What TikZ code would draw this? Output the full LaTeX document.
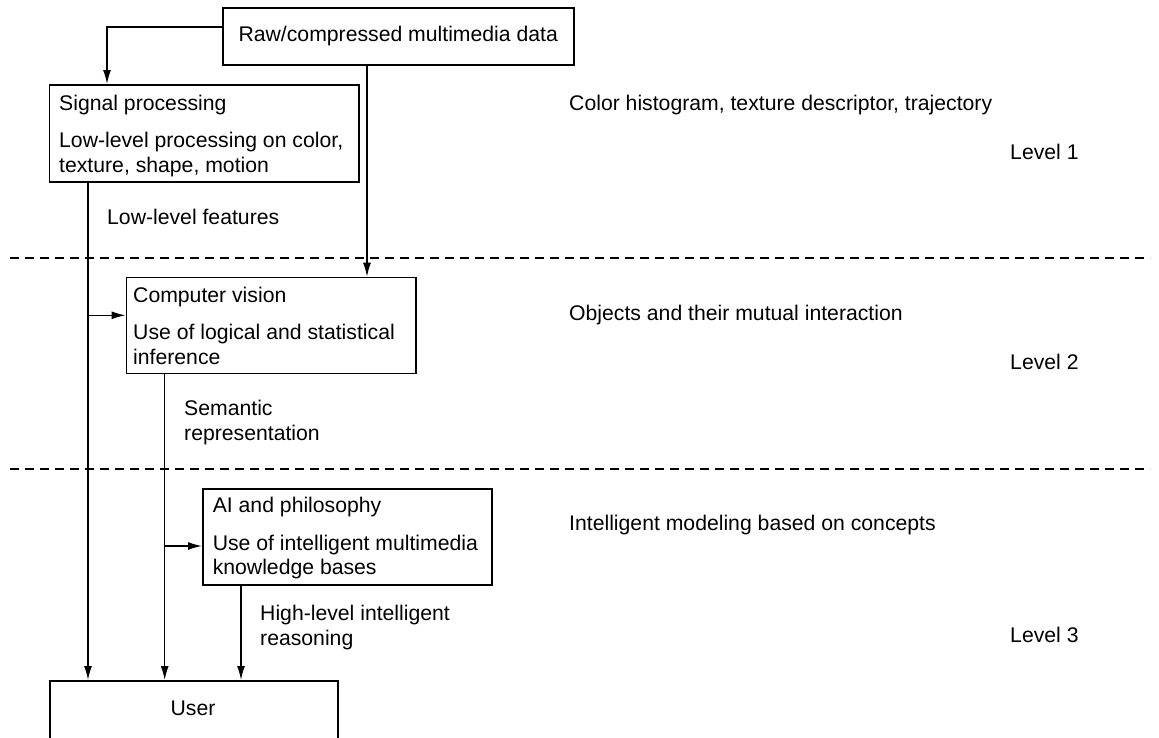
\documentclass[tikz,border=0pt]{standalone}
\usepackage{fontspec}
\setmainfont{Liberation Sans}
\usetikzlibrary{arrows.meta}
\begin{document}
\begin{tikzpicture}[x=1pt,y=-1pt,
  box/.style={draw,line width=1.5pt,inner sep=0pt,anchor=north west,font=\fontsize{21.2}{25}\selectfont},
  lbl/.style={anchor=base west,inner sep=0pt,font=\fontsize{21.2}{25}\selectfont},
  conn/.style={line width=1.4pt},
  arr/.style={conn,-{Latex[length=14pt,width=8pt]}},
  sepline/.style={line width=1.2pt,dash pattern=on 9pt off 6pt}]
\useasboundingbox (0,0) rectangle (1159,737);
\clip (0,0) rectangle (1159,737);

% boxes
\node[box,minimum width=351pt,minimum height=57pt] (raw) at (222,7) {Raw/compressed multimedia data};
\node[box,minimum width=309.4pt,minimum height=97pt] (sig) at (48.6,84) {};
\node[box,minimum width=289.4pt,minimum height=96pt] (cv) at (125.6,276.7) {};
\node[box,minimum width=289pt,minimum height=96pt] (ai) at (202,488) {};
\node[box,minimum width=288.4pt,minimum height=60pt] (user) at (49,680) {};
\node[anchor=base,inner sep=0pt,font=\fontsize{21.2}{25}\selectfont] (usert) at (193,715) {User};

% box texts
\node[lbl] (sigt1) at (59,110) {Signal processing};
\node[lbl] (sigt2) at (59,147) {Low-level processing on color,};
\node[lbl] (sigt3) at (59,172) {texture, shape, motion};
\node[lbl] (cvt1) at (133,302) {Computer vision};
\node[lbl] (cvt2) at (133,339) {Use of logical and statistical};
\node[lbl] (cvt3) at (133,364) {inference};
\node[lbl] (ait1) at (212.6,512) {AI and philosophy};
\node[lbl] (ait2) at (212.6,550) {Use of intelligent multimedia};
\node[lbl] (ait3) at (212.6,574) {knowledge bases};

% connector labels
\node[lbl] (feat) at (107,224) {Low-level features};
\node[lbl] (sem1) at (184,415) {Semantic};
\node[lbl] (sem2) at (184,440) {representation};
\node[lbl] (hl1) at (260,620) {High-level intelligent};
\node[lbl] (hl2) at (260,645) {reasoning};

% right column
\node[lbl] (r1) at (569,110) {Color histogram, texture descriptor, trajectory};
\node[lbl] (l1) at (1010,159) {Level 1};
\node[lbl] (r2) at (569,320) {Objects and their mutual interaction};
\node[lbl] (l2) at (1010,369) {Level 2};
\node[lbl] (r3) at (569,530) {Intelligent modeling based on concepts};
\node[lbl] (l3) at (1010,642) {Level 3};

% level separators
\draw[sepline] (10,258) -- (1150,258);
\draw[sepline] (10,469) -- (1150,469);

% connectors
\coordinate (rawL) at ([yshift=-20pt]raw.north west);
\draw[arr] (rawL) -| ([xshift=58.4pt]sig.north west);
\coordinate (rawB) at ([xshift=145pt]raw.south west);
\draw[arr] (rawB) -- (rawB |- cv.north);

\coordinate (sigB) at ([xshift=39.4pt]sig.south west);
\draw[arr] (sigB) -- (sigB |- user.north);
\coordinate (j1) at (sigB |- 0,315.3);
\draw[arr] (j1) -- (j1 -| cv.west);

\coordinate (cvB) at ([xshift=39.1pt]cv.south west);
\draw[arr] (cvB) -- (cvB |- user.north);
\coordinate (j2) at (cvB |- 0,546);
\draw[arr] (j2) -- (j2 -| ai.west);

\coordinate (aiB) at ([xshift=39pt]ai.south west);
\draw[arr] (aiB) -- (aiB |- user.north);
\end{tikzpicture}
\end{document}
